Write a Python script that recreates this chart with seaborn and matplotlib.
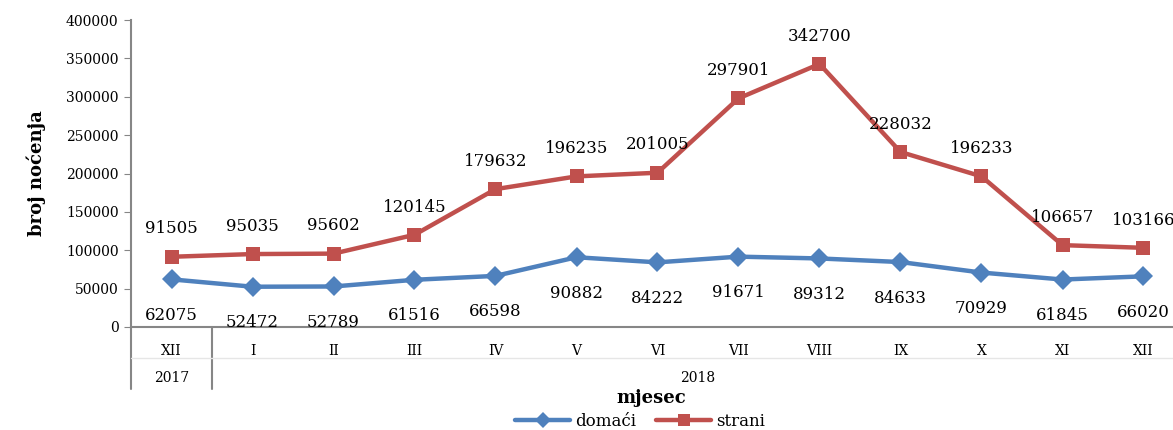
import seaborn as sns
import matplotlib.pyplot as plt
import matplotlib.transforms as mtransforms
import pandas as pd

# Data
months = ['XII', 'I', 'II', 'III', 'IV', 'V', 'VI', 'VII', 'VIII', 'IX', 'X', 'XI', 'XII']
years = ['2017'] + ['2018'] * 12
domaci = [62075, 52472, 52789, 61516, 66598, 90882, 84222, 91671, 89312, 84633, 70929, 61845, 66020]
strani = [91505, 95035, 95602, 120145, 179632, 196235, 201005, 297901, 342700, 228032, 196233, 106657, 103166]

keys = [m + ' ' + y for m, y in zip(months, years)]
df = pd.DataFrame({
    'mjesec': keys * 2,
    'broj': domaci + strani,
    'vrsta': ['domaći'] * len(domaci) + ['strani'] * len(strani),
})

sns.set_style('white')
plt.rcParams['font.family'] = ['DejaVu Serif']
plt.rcParams['text.color'] = 'black'
plt.rcParams['axes.labelcolor'] = 'black'
plt.rcParams['xtick.labelcolor'] = 'black'
plt.rcParams['ytick.labelcolor'] = 'black'

fig = plt.figure(figsize=(11.73, 4.30), dpi=100)
ax = fig.add_axes([131 / 1173, 103 / 430, 1 - 131 / 1173, 307 / 430])

palette = {'domaći': '#4F81BD', 'strani': '#C0504D'}
markers = {'domaći': 'D', 'strani': 's'}
sns.lineplot(data=df, x='mjesec', y='broj', hue='vrsta', style='vrsta', palette=palette,
             markers=markers, dashes=False, linewidth=3.2, markersize=10, markeredgewidth=0,
             sort=False, ax=ax)

ax.set_ylim(0, 400000)
ax.set_yticks(range(0, 400001, 50000))
ax.set_xlim(-0.5, -0.5 + (1173 - 131) / 81)
ax.tick_params(axis='y', labelsize=10, length=5, color='#868686', left=True, pad=4)
ax.set_xticks(range(len(months)))
ax.set_xticklabels(months, fontsize=10)
ax.tick_params(axis='x', length=0, pad=12)
for s in ['top', 'right']:
    ax.spines[s].set_visible(False)
for s in ['left', 'bottom']:
    ax.spines[s].set_color('#868686')
    ax.spines[s].set_linewidth(1.5)

# data labels
for i, (d, s) in enumerate(zip(domaci, strani)):
    ax.annotate(str(s), (i, s), xytext=(0, 20), textcoords='offset points',
                ha='center', va='center', fontsize=12)
    ax.annotate(str(d), (i, d), xytext=(0, -26), textcoords='offset points',
                ha='center', va='center', fontsize=12)

# two-level category axis
trans = mtransforms.blended_transform_factory(ax.transData, ax.transAxes)
drop = 62 / 307
for xs in [-0.5, 0.5]:
    ax.plot([xs, xs], [0, -drop], transform=trans, color='#868686', lw=1.5, clip_on=False)
ax.plot([-0.5, 13], [-31 / 307, -31 / 307], transform=trans, color='#e6e6e6', lw=1, clip_on=False)
ax.text(0, -51 / 307, '2017', transform=trans, ha='center', va='center', fontsize=10)
ax.text(6.5, -51 / 307, '2018', transform=trans, ha='center', va='center', fontsize=10)

ax.set_xlabel('')
ax.set_ylabel('broj noćenja', fontsize=13, fontweight='bold', labelpad=14)
fig.text(651 / 1173, 1 - 398 / 430, 'mjesec', ha='center', va='center', fontsize=13, fontweight='bold')

handles, labels = ax.get_legend_handles_labels()
for h in handles:
    h.set_markersize(8)
ax.legend(handles, labels, loc='center', bbox_to_anchor=(640 / 1173, 1 - 421 / 430),
          bbox_transform=fig.transFigure, ncol=2, frameon=False, fontsize=12,
          handlelength=3.3, columnspacing=1.2, handletextpad=0.3, borderpad=0)

plt.savefig('out.png', dpi=100)
